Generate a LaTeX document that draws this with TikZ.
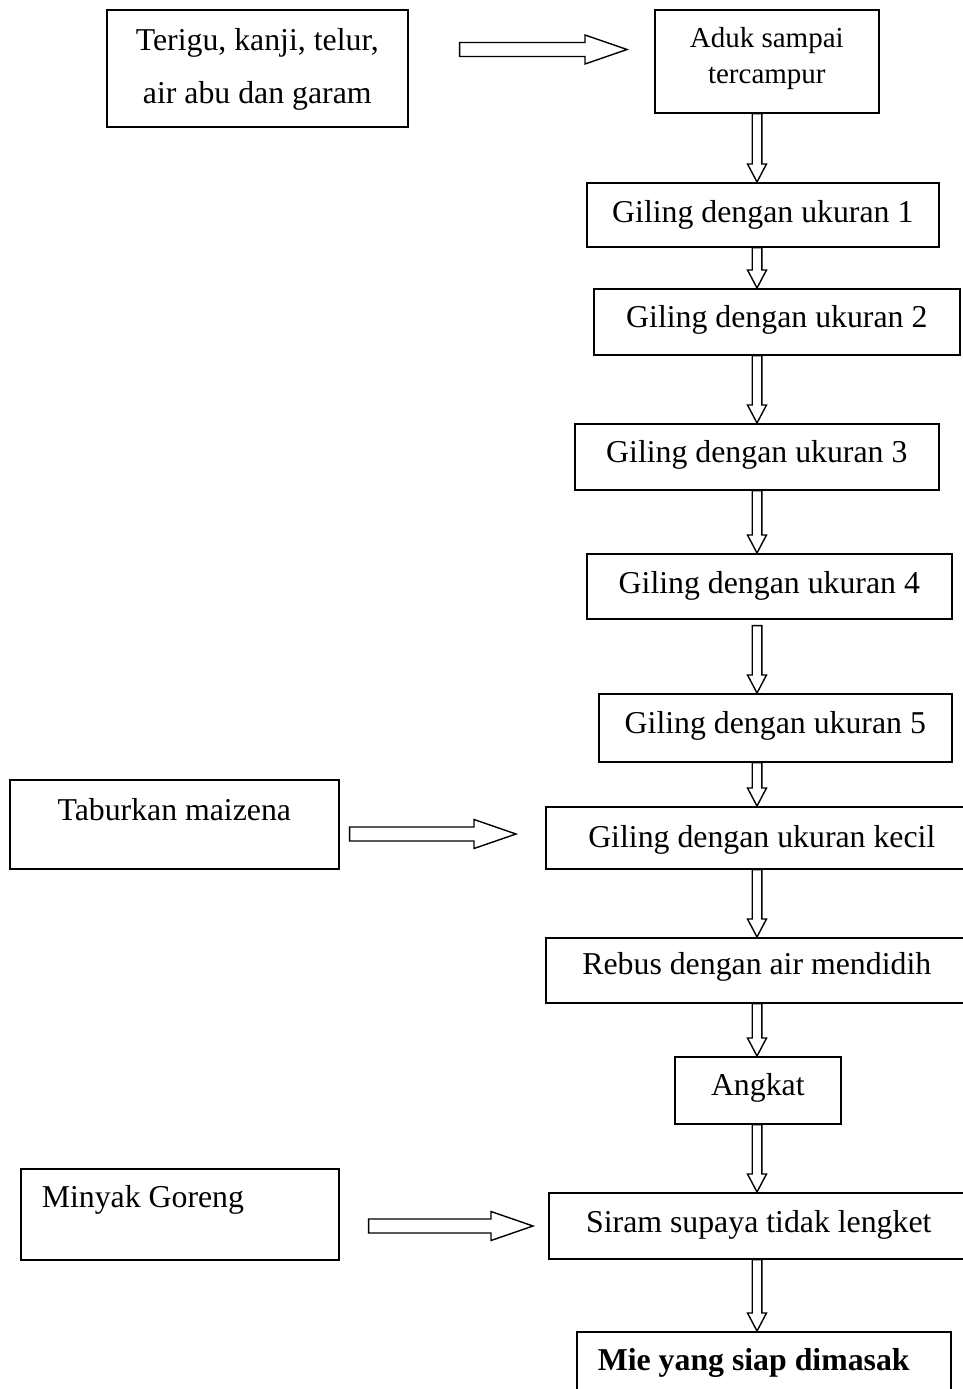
\documentclass[tikz,border=0pt]{standalone}
\usepackage{fontspec}
\setmainfont{Liberation Serif}
\usetikzlibrary{calc}
\tikzset{
  bx/.style n args={4}{draw, line width=1.6pt, rectangle, anchor=north west,
    inner xsep=0pt, inner ysep=0pt, minimum width=#1pt,
    text height=#2pt, text depth=#3pt, font=\fontsize{#4pt}{#4pt}\selectfont},
  blk/.style={draw, line width=1.4pt, fill=white, line join=miter},
}
% vertical block arrow: [start gap] from, to
\newcommand\blkdown[3][0]{%
  \draw[blk] let \p1=(#2.south), \p2=(#3.north) in
    (752.2pt,\y1-#1pt) -- (752.2pt,\y2+18pt) -- (747.5pt,\y2+18pt) -- (757pt,\y2)
    -- (766.5pt,\y2+18pt) -- (761.8pt,\y2+18pt) -- (761.8pt,\y1-#1pt) -- cycle;}
% horizontal block arrow: from, to, y(px), start gap, end gap
\newcommand\blkright[5]{%
  \draw[blk] let \p1=(#1.east), \p2=(#2.west) in
    (\x1+#4pt,-#3pt+7pt) -- (\x2-#5pt-42pt,-#3pt+7pt) -- (\x2-#5pt-42pt,-#3pt+14.5pt)
    -- (\x2-#5pt,-#3pt) -- (\x2-#5pt-42pt,-#3pt-14.5pt) -- (\x2-#5pt-42pt,-#3pt-7pt)
    -- (\x1+#4pt,-#3pt-7pt) -- cycle;}
\begin{document}
\begin{tikzpicture}[x=1pt,y=-1pt]
\fill[white] (0,0) rectangle (963,1389);
\useasboundingbox (0,0) rectangle (963,1389);

\node[bx={301}{94}{23}{31.8}] (b0) at (106,9)
  {\parbox[b]{300pt}{\centering\fontsize{31.8pt}{53pt}\selectfont Terigu, kanji, telur,\\air abu dan garam}};
\node[bx={224}{74}{29}{29}] (aduk) at (654,9)
  {\parbox[b]{224pt}{\centering\fontsize{29pt}{36pt}\selectfont Aduk sampai\\tercampur}};
\node[bx={352}{40}{24}{31.8}] (g1) at (586,182) {Giling dengan ukuran 1};
\node[bx={366}{39}{27}{31.8}] (g2) at (593,288) {Giling dengan ukuran 2};
\node[bx={364}{39}{27}{31.8}] (g3) at (574,423) {Giling dengan ukuran 3};
\node[bx={365}{40}{25}{31.8}] (g4) at (586,553) {Giling dengan ukuran 4};
\node[bx={353}{40}{28}{31.8}] (g5) at (598,693) {Giling dengan ukuran 5};
\node[bx={432}{41}{21}{31.8}] (kecil) at (545,806) {Giling dengan ukuran kecil};
\node[bx={422}{37}{28}{31.8}] (rebus) at (545,937) {Rebus dengan air mendidih};
\node[bx={166}{39}{28}{31.8}] (angkat) at (674,1056) {Angkat};
\node[bx={420}{40}{26}{31.8}] (siram) at (548,1192) {Siram supaya tidak lengket};
\node[bx={374}{39}{41}{31.8}] (mie) at (576,1331)
  {\makebox[374pt][l]{\hspace{21pt}\textbf{Mie yang siap dimasak}}};
\node[bx={329}{41}{48}{31.8}] (tabur) at (9,779) {Taburkan maizena};
\node[bx={318}{39}{52}{31.8}] (minyak) at (20,1168)
  {\makebox[318pt][l]{\hspace{21pt}Minyak Goreng}};

\blkright{b0}{aduk}{49.5}{51}{27}
\blkright{tabur}{kecil}{834}{10}{29}
\blkright{minyak}{siram}{1226}{29}{15}

\blkdown{aduk}{g1}
\blkdown{g1}{g2}
\blkdown{g2}{g3}
\blkdown{g3}{g4}
\blkdown[6]{g4}{g5}
\blkdown{g5}{kecil}
\blkdown{kecil}{rebus}
\blkdown{rebus}{angkat}
\blkdown{angkat}{siram}
\blkdown{siram}{mie}
\end{tikzpicture}
\end{document}
